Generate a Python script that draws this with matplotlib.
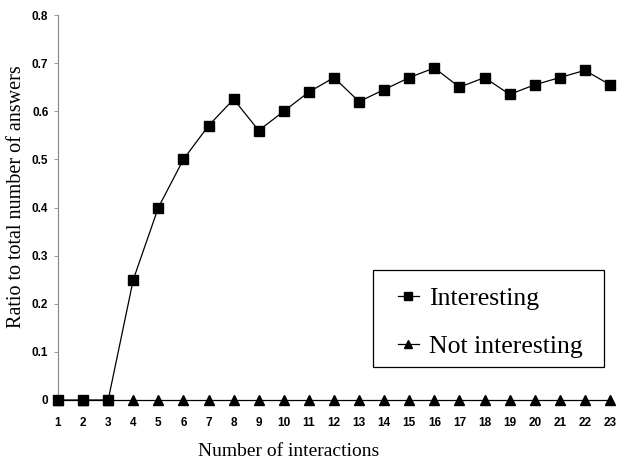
import matplotlib
matplotlib.use("Agg")
import matplotlib.pyplot as plt
from matplotlib.patches import Rectangle

# datos
interacciones = list(range(1, 24))
interesante = [0, 0, 0, 0.25, 0.40, 0.50, 0.57, 0.625, 0.56, 0.60, 0.64, 0.67,
               0.62, 0.645, 0.67, 0.69, 0.65, 0.67, 0.635, 0.655, 0.67, 0.685, 0.655]
no_interesante = [0] * 23
yticks = [0, 0.1, 0.2, 0.3, 0.4, 0.5, 0.6, 0.7, 0.8]
ytick_labels = ["0", "0.1", "0.2", "0.3", "0.4", "0.5", "0.6", "0.7", "0.8"]
xtick_labels = [str(i) for i in interacciones]

fig = plt.figure(figsize=(6.17, 4.67), dpi=100)
ax = fig.add_axes([58 / 617, 1 - 400 / 467, (610 - 58) / 617, (400 - 15) / 467])

ax.plot(interacciones, no_interesante, color='black', lw=0.9, marker='^', ms=6.5,
        clip_on=False, label='Not interesting', zorder=3)
ax.plot(interacciones, interesante, color='black', lw=0.9, marker='s', ms=7.5,
        clip_on=False, label='Interesting', zorder=4)

ax.set_xlim(1, 23)
ax.set_ylim(0, 0.8)
ax.set_yticks(yticks)
ax.set_yticklabels(ytick_labels)
ax.set_xticks(interacciones)
ax.set_xticklabels(xtick_labels)

for s in ['top', 'right', 'bottom']:
    ax.spines[s].set_visible(False)
ax.spines['left'].set_color('#888888')
ax.spines['left'].set_linewidth(0.8)

ax.tick_params(axis='y', length=3, width=0.6, color='#888888', pad=4,
               labelsize=8.5)
ax.tick_params(axis='x', length=0, pad=12, labelsize=8.5)
for lab in ax.get_xticklabels() + ax.get_yticklabels():
    lab.set_family('Liberation Sans')
    lab.set_weight('bold')

# etiquetas de ejes
fig.text(17 / 617, 1 - 197 / 467, 'Ratio to total number of answers',
         family='Liberation Serif', fontsize=14.5, rotation=90,
         ha='center', va='center')
fig.text(289 / 617, 1 - 452 / 467, 'Number of interactions',
         family='Liberation Serif', fontsize=14, ha='center', va='center')

# leyenda con marco dibujado aparte
fig.patches.append(Rectangle((373 / 617, 1 - 367 / 467), (604 - 373) / 617,
                             (367 - 270) / 467, transform=fig.transFigure,
                             fill=False, edgecolor='black', lw=0.9))
handles, labels = ax.get_legend_handles_labels()
leg = fig.legend(handles[::-1], labels[::-1], loc='upper left',
                 bbox_to_anchor=(398 / 617, 1 - 287 / 467),
                 prop={'family': 'Liberation Serif', 'size': 18.5},
                 frameon=False, handlelength=0.8, handletextpad=0.4,
                 labelspacing=0.98, borderpad=0, borderaxespad=0,
                 markerscale=0.8)

fig.savefig('out.png', dpi=100)
